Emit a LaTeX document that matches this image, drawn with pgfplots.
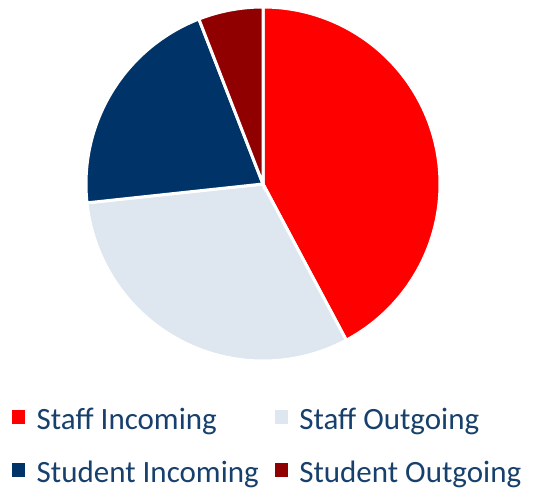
\documentclass[border=0pt]{standalone}
\usepackage{pgfplots}
\pgfplotsset{compat=1.18}
\usepackage{pgfplotstable}
\usepackage{fontspec}
\setmainfont{Carlito}
\definecolor{cA}{HTML}{FF0000}
\definecolor{cB}{HTML}{DEE6EF}
\definecolor{cC}{HTML}{003468}
\definecolor{cD}{HTML}{900000}
\definecolor{navytext}{HTML}{17406D}
\pgfplotstableread{
share
42.2
31.1
20.8
5.9
}\piedata
\begin{document}
\begin{tikzpicture}
\useasboundingbox (0,0) rectangle (533pt,490pt);
\pgfplotstablegetelem{0}{share}\of\piedata \let\vA\pgfplotsretval
\pgfplotstablegetelem{1}{share}\of\piedata \let\vB\pgfplotsretval
\pgfplotstablegetelem{2}{share}\of\piedata \let\vC\pgfplotsretval
\pgfplotstablegetelem{3}{share}\of\piedata \let\vD\pgfplotsretval
\pgfmathsetmacro{\aA}{90}
\pgfmathsetmacro{\aB}{\aA-3.6*\vA}
\pgfmathsetmacro{\aC}{\aB-3.6*\vB}
\pgfmathsetmacro{\aD}{\aC-3.6*\vC}
\pgfmathsetmacro{\aE}{\aD-3.6*\vD}
\begin{axis}[
  at={(263pt,306pt)}, anchor=center,
  x=177pt, y=177pt, xmin=-1, xmax=1, ymin=-1, ymax=1,
  hide axis, clip=false,
  legend columns=2,
  legend cell align=left,
  legend image code/.code={\fill[#1, draw=none] (0pt,-4pt) rectangle (13pt,9.5pt); \path (21pt,0pt);},
  legend style={draw=none, fill=none, at={(-0.209,-0.128)}, anchor=north west,
    font=\fontsize{31}{35}\selectfont, text=navytext, inner sep=0pt,
    row sep=26pt, /tikz/every even column/.append style={column sep=14pt}},
]
\addplot[fill=cA, draw=white, line width=3pt, variable=\t, domain=\aB:\aA, samples=120] ({cos(\t)},{sin(\t)}) -- (axis cs:0,0) -- cycle;
\addlegendentry{Staff Incoming}
\addplot[fill=cB, draw=white, line width=3pt, variable=\t, domain=\aC:\aB, samples=100] ({cos(\t)},{sin(\t)}) -- (axis cs:0,0) -- cycle;
\addlegendentry{Staff Outgoing}
\addplot[fill=cC, draw=white, line width=3pt, variable=\t, domain=\aD:\aC, samples=80] ({cos(\t)},{sin(\t)}) -- (axis cs:0,0) -- cycle;
\addlegendentry{Student Incoming}
\addplot[fill=cD, draw=white, line width=3pt, variable=\t, domain=\aE:\aD, samples=30] ({cos(\t)},{sin(\t)}) -- (axis cs:0,0) -- cycle;
\addlegendentry{Student Outgoing}
\end{axis}
\end{tikzpicture}
\end{document}
